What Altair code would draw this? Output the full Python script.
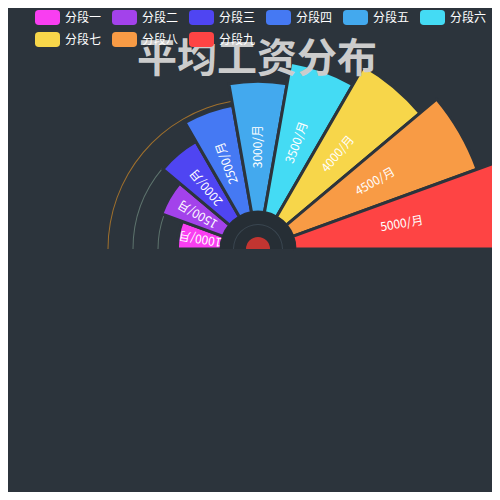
import math
import altair as alt
import pandas as pd

# ---- data ----
categories = ["分段一", "分段二", "分段三", "分段四", "分段五", "分段六", "分段七", "分段八", "分段九"]
values = [1000, 1500, 2000, 2500, 3000, 3500, 4000, 4500, 5000]
labels = ["1000/月", "1500/月", "2000/月", "2500/月", "3000/月", "3500/月", "4000/月", "4500/月", "5000/月"]
colors = ["#f93ef1", "#a342eb", "#4f45f2", "#4579f3", "#43a9ee", "#44dbf4", "#f7d64a", "#f89b45", "#fe4444"]
title_text = "平均工资分布"

BG = "#2c343c"
FONT = "Noto Sans CJK SC"
n = len(categories)

df = pd.DataFrame({
    "cat": categories,
    "value": values,
    "label": labels,
})
df["a0"] = range(n)
df["a1"] = df["a0"] + 1
df["amid"] = df["a0"] + 0.5
df["half"] = df["value"] / 2
# text reads outward from the centre along each sector's mid direction
df["rot"] = 360 - (180 - 180 * df["amid"] / n)

theta_scale = alt.Scale(domain=[0, n], range=[math.pi * 1.5, math.pi * 2.5])
radius_scale = alt.Scale(type="linear", domain=[0, 5000], range=[37, 255])

cx = alt.value(250)
cy = alt.value(241)

one = pd.DataFrame({"k": [0]})

legend_symbol = ("M-0.7,-0.6 L0.7,-0.6 Q1,-0.6 1,-0.3 L1,0.3 Q1,0.6 0.7,0.6 "
                 "L-0.7,0.6 Q-1,0.6 -1,0.3 L-1,-0.3 Q-1,-0.6 -0.7,-0.6 Z")


def deco_arc(r_out, r_in, end, color):
    return alt.Chart(one).mark_arc(radius=r_out, radius2=r_in, color=color).encode(
        theta=alt.Theta(datum=0, scale=theta_scale),
        theta2=alt.Theta2(datum=end),
        x=cx, y=cy,
    )


arc_small = deco_arc(100.5, 99.5, 1, "#5d736d")
arc_mid = deco_arc(125.5, 124.5, 2, "#5d736d")
arc_big = deco_arc(150.5, 149.5, 4, "#a0702c")

sectors = alt.Chart(df).mark_arc(stroke=BG, strokeWidth=3).encode(
    theta=alt.Theta("a0:Q", scale=theta_scale),
    theta2="a1:Q",
    radius=alt.Radius("value:Q", scale=radius_scale),
    color=alt.Color(
        "cat:N",
        scale=alt.Scale(domain=categories, range=colors),
        legend=alt.Legend(
            title=None,
            orient="none",
            legendX=27,
            legendY=-3,
            direction="horizontal",
            columns=6,
            columnPadding=10,
            rowPadding=2,
            symbolType=legend_symbol,
            symbolSize=625,
            symbolStrokeWidth=0,
            symbolOpacity=1,
            labelOffset=5,
            labelColor="#ffffff",
            labelFont=FONT,
            labelFontSize=12,
        ),
    ),
    x=cx, y=cy,
)

center_disc = deco_arc(38, 0, n, "#262e35")
center_ring = deco_arc(25, 24, n, "#3a4650")
center_red = deco_arc(12, 0, n, "#c23531")

texts = alt.Chart(df).mark_text(
    color="#ffffff", font=FONT, fontSize=12, align="center", baseline="middle"
).encode(
    theta=alt.Theta("amid:Q", scale=theta_scale),
    radius=alt.Radius("half:Q", scale=radius_scale),
    angle=alt.Angle("rot:Q", scale=None),
    text="label:N",
    x=cx, y=cy,
)

title = alt.Chart(pd.DataFrame({"t": [title_text]})).mark_text(
    color="#cccccc", font=FONT, fontSize=40, fontWeight="bold",
    align="center", baseline="middle",
).encode(
    text="t:N",
    x=alt.value(249),
    y=alt.value(52),
)

chart = alt.layer(
    arc_small, arc_mid, arc_big, sectors, center_disc, center_ring, center_red, texts, title
).properties(
    width=484,
    height=484,
    background=BG,
    padding=0,
    autosize=alt.AutoSizeParams(type="none"),
).configure_view(stroke=None)

chart.save("out.html", embed_options={"renderer": "svg", "actions": False})
